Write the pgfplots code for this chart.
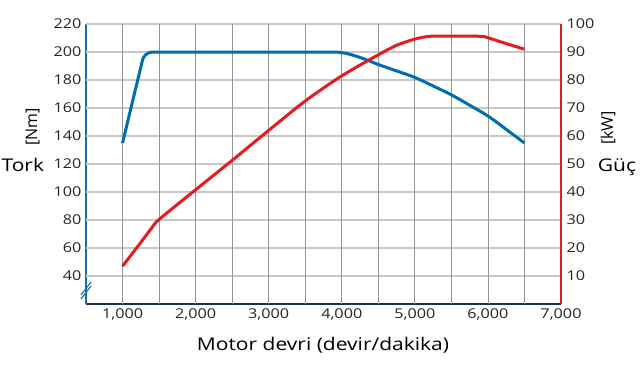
\documentclass[border=0pt]{standalone}
\usepackage{pgfplots}
\pgfplotsset{compat=1.18}
\usepackage{fontspec}
\setmainfont{Open Sans}[FakeStretch=1.2]
\newfontfamily\plainfont{Open Sans}
\definecolor{tblue}{RGB}{0,108,178}
\definecolor{tred}{RGB}{228,28,32}
\definecolor{axblue}{RGB}{20,112,182}
\definecolor{navy}{RGB}{30,50,72}
\definecolor{vgrid}{RGB}{150,150,150}
\definecolor{hgrid}{RGB}{200,200,200}
\begin{document}
\begin{tikzpicture}
\path[use as bounding box] (-86pt,-66pt) rectangle (554pt,304pt);
\begin{axis}[
  scale only axis, width=475pt, height=280pt,
  at={(0pt,0pt)}, anchor=south west,
  clip mode=individual,
  xmin=500, xmax=7000, ymin=20, ymax=220,
  axis x line*=bottom, axis y line*=left,
  x axis line style={navy, line width=1.3pt, -},
  y axis line style={axblue, line width=1.3pt, -},
  xtick={1000,2000,...,7000},
  ytick={40,60,...,220},
  xtick style={draw=none}, ytick style={draw=none},
  tick label style={font=\fontsize{13.5}{16}\selectfont, text=black!85},
  yticklabel style={xshift=-1pt},
  xticklabel style={yshift=-1pt},
  /pgf/number format/assume math mode=true,
  /pgf/number format/1000 sep={,},
]
\pgfplotsinvokeforeach{40,60,...,220}{\draw[hgrid, line width=1.3pt] (axis cs:500,#1) -- (axis cs:7000,#1);}
\pgfplotsinvokeforeach{1000,1500,...,6500}{\draw[vgrid, line width=0.8pt] (axis cs:#1,20) -- (axis cs:#1,220);}
\addplot[tblue, line width=3pt, rounded corners=8pt] coordinates {
(1000,135) (1300,200) (4000,200) (4250,196.3) (4500,191)
(5000,182) (5500,169.5) (6000,154.5) (6500,135)
};
\node[font=\fontsize{17.5}{20}\selectfont] at (rel axis cs:-0.133,0.496) {Tork};
\node[font=\plainfont\fontsize{16}{18}\selectfont, rotate=90] at (rel axis cs:-0.112,0.632) {[Nm]};
\node[font=\fontsize{17.5}{20}\selectfont] at (rel axis cs:0.499,-0.146) {Motor devri (devir/dakika)};
\draw[axblue, line width=1.1pt] ([xshift=-5pt,yshift=-9pt]rel axis cs:0,0.05) -- ++(10pt,13pt);
\draw[axblue, line width=1.1pt] ([xshift=-5pt,yshift=-5pt]rel axis cs:0,0.05) -- ++(10pt,13pt);
\end{axis}
\begin{axis}[
  scale only axis, width=475pt, height=280pt,
  at={(0pt,0pt)}, anchor=south west,
  clip mode=individual,
  xmin=500, xmax=7000, ymin=0, ymax=100,
  axis y line*=right, axis x line=none,
  y axis line style={tred, line width=1.3pt, -},
  ytick={10,20,...,100},
  ytick style={draw=none},
  tick label style={font=\fontsize{13.5}{16}\selectfont, text=black!85},
  yticklabel style={xshift=2pt},
  /pgf/number format/assume math mode=true,
]
\addplot[tred, line width=3pt, smooth, tension=0.45] coordinates {
(1000,13.5) (1250,22) (1400,27.2) (1500,30.2) (2000,40.8) (2500,51.3)
(3000,62) (3500,72.5) (4000,81.5) (4500,89) (4750,92.4) (5000,94.6)
(5200,95.6) (5500,95.7) (5900,95.6) (6000,95.1) (6250,93) (6500,91)
};
\node[font=\fontsize{17.5}{20}\selectfont] at (rel axis cs:1.118,0.489) {Güç};
\node[font=\plainfont\fontsize{16}{18}\selectfont, rotate=90] at (rel axis cs:1.099,0.629) {[kW]};
\end{axis}
\end{tikzpicture}
\end{document}
